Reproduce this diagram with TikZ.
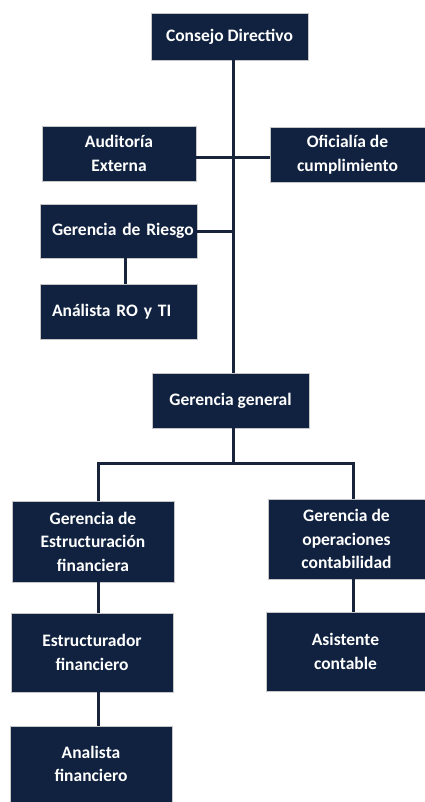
\documentclass[tikz,border=0pt]{standalone}
\usepackage{fontspec}
\setmainfont{Carlito}
\definecolor{navy}{HTML}{10223F}
\definecolor{linec}{HTML}{18243C}
\begin{document}
\begin{tikzpicture}[x=1pt,y=-1pt,
  box/.style={fill=navy, draw=gray!45, line width=0.7pt, text=white,
    font=\fontsize{17.5}{23.5}\selectfont\bfseries, align=center, inner sep=0pt},
  conn/.style={draw=linec, line width=3pt}]
\useasboundingbox (0,0) rectangle (425,802);
% boxes
\node[box, minimum width=157pt, minimum height=47pt] (cd) at (229.5,36.5) {Consejo Directivo};
\node[box, minimum width=154pt, minimum height=55pt] (ae) at (119,153.5) {Auditoría\\Externa};
\node[box, minimum width=155pt, minimum height=55pt] (of) at (347.5,154.5) {Oficialía de\\cumplimiento};
\node[box, minimum width=157pt, minimum height=54pt, text width=133pt, inner xsep=12pt, align=left] (gr) at (118.5,231) {\makebox[133pt][l]{Gerencia de Riesgo}};
\node[box, minimum width=157pt, minimum height=55pt, text width=133pt, inner xsep=12pt, align=left] (ar) at (118.5,311.5) {Análista RO y TI};
\node[box, minimum width=157pt, minimum height=55pt] (gg) at (230.5,400.5) {Gerencia general};
\node[box, minimum width=162pt, minimum height=81pt] (ge) at (93,541.5) {Gerencia de\\Estructuración\\financiera};
\node[box, minimum width=157pt, minimum height=80pt] (go) at (346.5,539) {Gerencia de\\operaciones\\contabilidad};
\node[box, minimum width=162pt, minimum height=79pt] (ef) at (92,652.5) {Estructurador\\financiero};
\node[box, minimum width=159pt, minimum height=79pt] (ac) at (345.5,651.5) {Asistente\\contable};
\node[box, minimum width=162pt, minimum height=76pt] (af) at (91,764) {Analista\\financiero};
% helper coordinates
\coordinate (sp) at (233,0);
\coordinate (h1) at (0,158);
\coordinate (h2) at (0,231);
\coordinate (c1) at (125,0);
\coordinate (lb) at (98,0);
\coordinate (rb) at (353,0);
\coordinate (hb) at (0,463);
% connectors
\draw[conn] (cd.south -| sp) -- (gg.north -| sp);
\draw[conn] (ae.east |- h1) -- (of.west |- h1);
\draw[conn] (gr.east |- h2) -- (sp |- h2);
\draw[conn] (gr.south -| c1) -- (ar.north -| c1);
\draw[conn] (gg.south -| sp) -- (sp |- hb);
\draw[conn] (ge.north -| lb) -- (lb |- hb) -- (rb |- hb) -- (go.north -| rb);
\draw[conn] (ge.south -| lb) -- (ef.north -| lb);
\draw[conn] (ef.south -| lb) -- (af.north -| lb);
\draw[conn] (go.south -| rb) -- (ac.north -| rb);
\end{tikzpicture}
\end{document}
